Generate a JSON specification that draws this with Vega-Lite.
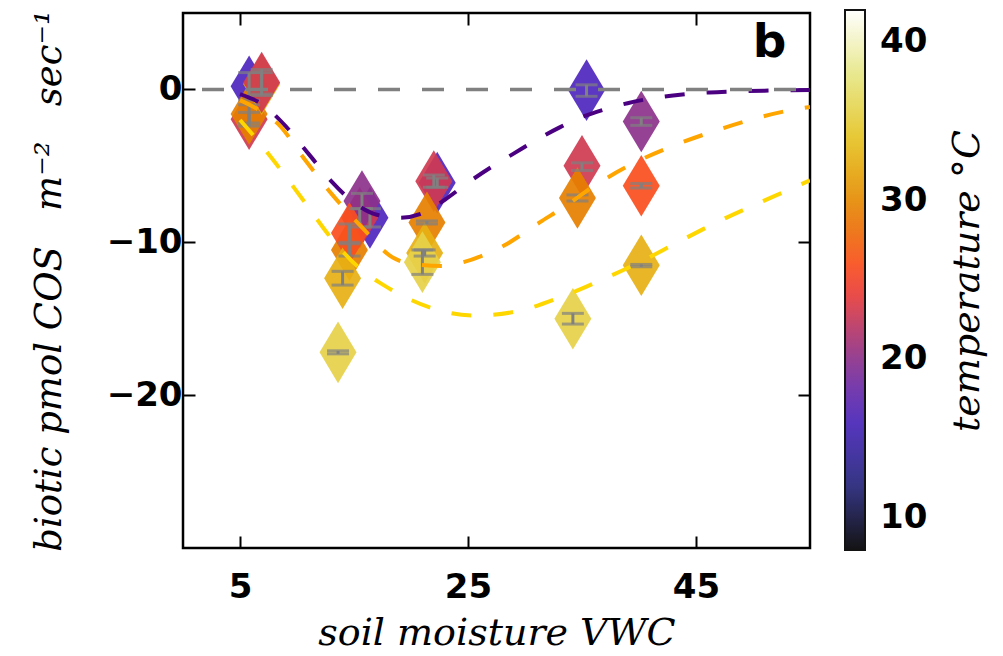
{
  "$schema": "https://vega.github.io/schema/vega-lite/v6.json",
  "width": 627,
  "height": 535,
  "autosize": {"type": "none"},
  "padding": {"left": 183, "top": 13, "right": 193, "bottom": 108},
  "background": "white",
  "config": {
    "view": {"stroke": "black", "strokeWidth": 2.5},
    "axis": {
      "domain": false,
      "grid": false,
      "tickColor": "black",
      "tickWidth": 2,
      "tickSize": -12,
      "labelFont": "DejaVu Sans",
      "labelFontWeight": "bold",
      "labelFontSize": 34,
      "labelColor": "black",
      "titleFont": "DejaVu Serif",
      "titleFontStyle": "italic",
      "titleFontWeight": "normal",
      "titleFontSize": 38,
      "titleColor": "black",
      "titleLimit": 700
    }
  },
  "datasets": {
    "pts": [
      {"x": 5.8, "y": 0.2, "t": 16.5, "lo": -0.7, "hi": 1.1},
      {"x": 5.8, "y": -1.95, "t": 23, "lo": -2.4, "hi": -1.5},
      {"x": 5.8, "y": -1.6, "t": 29.2, "lo": -2.2, "hi": -1.0},
      {"x": 6.9, "y": 0.35, "t": 32.5, "lo": -0.4, "hi": 1.1},
      {"x": 6.9, "y": 0.45, "t": 23, "lo": -0.3, "hi": 1.3},
      {"x": 16.4, "y": -8.4, "t": 16.5, "lo": -9.0, "hi": -7.8},
      {"x": 15.5, "y": -8.4, "t": 23, "lo": -9.0, "hi": -7.8},
      {"x": 15.7, "y": -7.3, "t": 20, "lo": -7.8, "hi": -6.8},
      {"x": 14.6, "y": -10.5, "t": 29.2, "lo": -10.9, "hi": -10.1},
      {"x": 14.6, "y": -9.4, "t": 25.9, "lo": -10.0, "hi": -8.8},
      {"x": 14.0, "y": -12.35, "t": 32.5, "lo": -12.8, "hi": -11.9},
      {"x": 13.6, "y": -17.2, "t": 35.5, "lo": -17.3, "hi": -17.1},
      {"x": 22.3, "y": -6.1, "t": 16.5, "lo": -6.4, "hi": -5.8},
      {"x": 22.0, "y": -6.0, "t": 23, "lo": -6.4, "hi": -5.6},
      {"x": 21.4, "y": -8.7, "t": 29.2, "lo": -8.8, "hi": -8.6},
      {"x": 21.2, "y": -10.7, "t": 32.5, "lo": -10.9, "hi": -10.5},
      {"x": 21.0, "y": -11.3, "t": 35.5, "lo": -12.1, "hi": -10.5},
      {"x": 35.4, "y": -0.05, "t": 16.5, "lo": -0.45, "hi": 0.3},
      {"x": 35.0, "y": -5.0, "t": 23, "lo": -5.3, "hi": -4.8},
      {"x": 34.6, "y": -7.1, "t": 29.2, "lo": -7.3, "hi": -6.9},
      {"x": 34.2, "y": -15.0, "t": 35.5, "lo": -15.35, "hi": -14.65},
      {"x": 40.2, "y": -2.1, "t": 20, "lo": -2.35, "hi": -1.85},
      {"x": 40.2, "y": -6.3, "t": 25.9, "lo": -6.45, "hi": -6.15},
      {"x": 40.2, "y": -11.5, "t": 32.5, "lo": -11.6, "hi": -11.45}
    ],
    "fits": [
      {"fit": "low", "x": 5.0, "y": -0.3}, {"fit": "low", "x": 7, "y": -1.0}, {"fit": "low", "x": 9, "y": -2.4},
      {"fit": "low", "x": 11, "y": -4.2}, {"fit": "low", "x": 13, "y": -6.0}, {"fit": "low", "x": 15, "y": -7.4},
      {"fit": "low", "x": 17, "y": -8.2}, {"fit": "low", "x": 19, "y": -8.4}, {"fit": "low", "x": 21, "y": -8.1},
      {"fit": "low", "x": 23, "y": -7.2}, {"fit": "low", "x": 25, "y": -6.1}, {"fit": "low", "x": 27, "y": -5.1},
      {"fit": "low", "x": 29, "y": -4.2}, {"fit": "low", "x": 31, "y": -3.3}, {"fit": "low", "x": 33, "y": -2.5},
      {"fit": "low", "x": 35, "y": -1.8}, {"fit": "low", "x": 37, "y": -1.3}, {"fit": "low", "x": 39, "y": -0.9},
      {"fit": "low", "x": 41, "y": -0.6}, {"fit": "low", "x": 43, "y": -0.4}, {"fit": "low", "x": 45, "y": -0.25},
      {"fit": "low", "x": 48, "y": -0.15}, {"fit": "low", "x": 51, "y": -0.08}, {"fit": "low", "x": 55, "y": -0.03},
      {"fit": "mid", "x": 5.0, "y": -0.7}, {"fit": "mid", "x": 7, "y": -1.5}, {"fit": "mid", "x": 8.4, "y": -2.3},
      {"fit": "mid", "x": 10.5, "y": -4.4}, {"fit": "mid", "x": 13, "y": -6.8}, {"fit": "mid", "x": 15.8, "y": -9.1},
      {"fit": "mid", "x": 18.4, "y": -11.0}, {"fit": "mid", "x": 20.5, "y": -11.45}, {"fit": "mid", "x": 22.7, "y": -11.55},
      {"fit": "mid", "x": 24.6, "y": -11.3}, {"fit": "mid", "x": 26.5, "y": -10.8}, {"fit": "mid", "x": 28.2, "y": -10.2},
      {"fit": "mid", "x": 29.9, "y": -9.4}, {"fit": "mid", "x": 31.5, "y": -8.6}, {"fit": "mid", "x": 33.1, "y": -7.85},
      {"fit": "mid", "x": 36.3, "y": -6.2}, {"fit": "mid", "x": 39.6, "y": -4.8}, {"fit": "mid", "x": 43.3, "y": -3.6},
      {"fit": "mid", "x": 46.7, "y": -2.7}, {"fit": "mid", "x": 50.2, "y": -1.9}, {"fit": "mid", "x": 53.7, "y": -1.3},
      {"fit": "mid", "x": 55, "y": -1.15},
      {"fit": "high", "x": 5.0, "y": -2.0}, {"fit": "high", "x": 6.5, "y": -3.3}, {"fit": "high", "x": 8.1, "y": -4.8},
      {"fit": "high", "x": 10.5, "y": -7.2}, {"fit": "high", "x": 13.3, "y": -10.0}, {"fit": "high", "x": 15.8, "y": -11.9},
      {"fit": "high", "x": 17.6, "y": -12.8}, {"fit": "high", "x": 19.0, "y": -13.4}, {"fit": "high", "x": 21.8, "y": -14.3},
      {"fit": "high", "x": 25.6, "y": -14.8}, {"fit": "high", "x": 29.4, "y": -14.5}, {"fit": "high", "x": 33.1, "y": -13.6},
      {"fit": "high", "x": 36.6, "y": -12.5}, {"fit": "high", "x": 39.8, "y": -11.4}, {"fit": "high", "x": 43.4, "y": -10.0},
      {"fit": "high", "x": 46.8, "y": -8.7}, {"fit": "high", "x": 50.3, "y": -7.5}, {"fit": "high", "x": 53.5, "y": -6.45},
      {"fit": "high", "x": 55, "y": -5.95}
    ],
    "panel": [{"x": 51.45, "y": 2.14, "label": "b"}]
  },
  "layer": [
    {
      "data": {"name": "pts"},
      "mark": {"type": "point", "shape": "M0,-1L0.6,0L0,1L-0.6,0Z", "filled": true, "size": 3800, "opacity": 0.92, "strokeWidth": 0},
      "encoding": {
        "x": {"field": "x", "type": "quantitative", "scale": {"domain": [0, 55], "nice": false, "zero": false},
              "axis": {"orient": "bottom", "values": [5, 25, 45], "title": "soil moisture VWC", "labelPadding": 34, "titlePadding": 10}},
        "y": {"field": "y", "type": "quantitative", "scale": {"domain": [-30, 5], "nice": false, "zero": false},
              "axis": {"orient": "left", "values": [0, -10, -20], "title": "biotic pmol COS\u00a0\u00a0\u00a0m⁻²\u00a0\u00a0\u00a0sec⁻¹", "titleFontSize": 37, "labelPadding": 13, "titlePadding": 38}},
        "fill": {"field": "t", "type": "quantitative",
                 "scale": {"domain": [8, 12.25, 16.5, 20.75, 25, 29.25, 33.5, 37.75, 42],
                           "range": ["#000000", "#262680", "#4D26BF", "#993380", "#FF4026", "#E68000", "#E6BF1A", "#E6E680", "#FFFFFF"],
                           "interpolate": "rgb"},
                 "legend": {"orient": "none", "legendX": 662, "legendY": -3, "direction": "vertical", "type": "gradient",
                            "gradientLength": 540, "gradientThickness": 20, "gradientStrokeColor": "black", "gradientStrokeWidth": 2,
                            "values": [10, 20, 30, 40], "labelOverlap": false,
                            "labelFont": "DejaVu Sans", "labelFontWeight": "bold", "labelFontSize": 34, "labelColor": "black", "labelOffset": 15,
                            "title": null, "padding": 0}}
      }
    },
    {
      "data": {"name": "pts"},
      "mark": {"type": "errorbar", "ticks": {"size": 22, "thickness": 3, "color": "#808080"}, "rule": {"strokeWidth": 3, "color": "#808080"}},
      "encoding": {
        "x": {"field": "x", "type": "quantitative", "axis": null},
        "y": {"field": "lo", "type": "quantitative", "axis": null},
        "y2": {"field": "hi"}
      }
    },
    {
      "data": {"name": "fits"},
      "mark": {"type": "line", "strokeWidth": 4, "strokeDash": [20, 22], "interpolate": "monotone", "clip": true},
      "encoding": {
        "x": {"field": "x", "type": "quantitative", "axis": null},
        "y": {"field": "y", "type": "quantitative", "axis": null},
        "stroke": {"field": "fit", "type": "nominal", "scale": {"domain": ["low", "mid", "high"], "range": ["#4B0082", "#FFA500", "#FFD700"]}, "legend": null}
      }
    },
    {
      "data": {"values": [{"z": 0}]},
      "mark": {"type": "rule", "color": "#808080", "strokeWidth": 3.5, "strokeDash": [22, 22], "strokeDashOffset": 30},
      "encoding": {
        "y": {"field": "z", "type": "quantitative", "axis": null}
      }
    },
    {
      "data": {"name": "panel"},
      "mark": {"type": "text", "font": "DejaVu Sans", "fontWeight": "bold", "fontSize": 47, "align": "center", "baseline": "alphabetic", "color": "black"},
      "encoding": {
        "x": {"field": "x", "type": "quantitative", "axis": {"orient": "top", "values": [5, 25, 45], "labels": false, "title": null}},
        "y": {"field": "y", "type": "quantitative", "axis": {"orient": "right", "values": [0, -10, -20], "labels": false,
              "title": "temperature °C", "titleAngle": -90, "titleBaseline": "top", "titlePadding": 137, "titleFontSize": 38}},
        "text": {"field": "label"}
      }
    }
  ],
  "resolve": {"axis": {"x": "independent", "y": "independent"}}
}
